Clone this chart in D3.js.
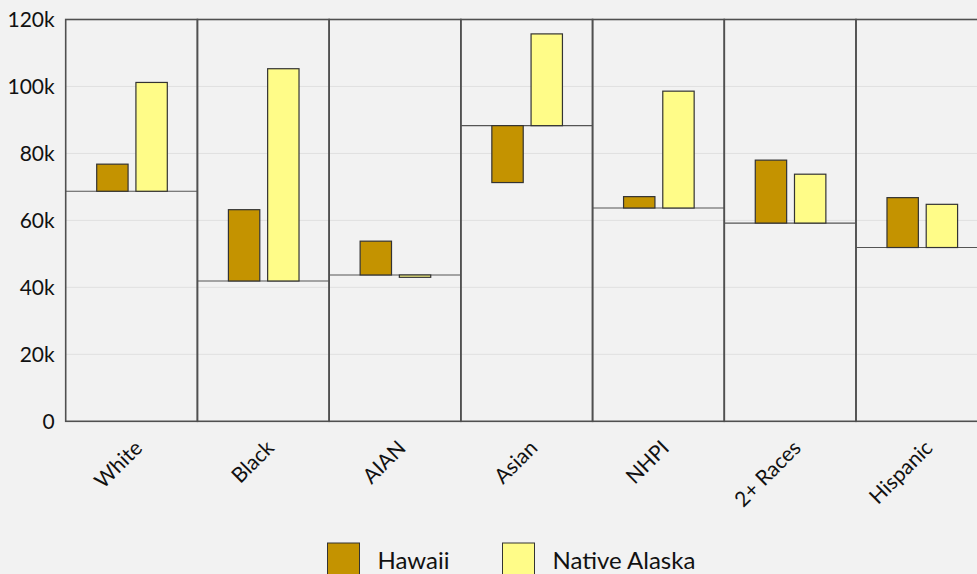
<!DOCTYPE html>
<html>
<head>
<meta charset="utf-8">
<script src="https://cdn.jsdelivr.net/npm/d3@7"></script>
<style>
  html, body { margin: 0; padding: 0; background: #f2f2f2; overflow: hidden; }
  svg { display: block; font-family: Lato, "Open Sans", sans-serif; }
</style>
</head>
<body>
<svg id="chart" width="977" height="574"></svg>
<script>
const categories = ["White", "Black", "AIAN", "Asian", "NHPI", "2+ Races", "Hispanic"];
const baseline = [68.7, 41.9, 43.7, 88.3, 63.7, 59.2, 51.9];   // thousands
const hawaii = [76.8, 63.2, 53.8, 71.3, 67.1, 78.0, 66.8];
const nativeAlaska = [101.2, 105.3, 43.0, 115.7, 98.6, 73.8, 64.8];
const seriesNames = ["Hawaii", "Native Alaska"];
const seriesColors = ["#c49300", "#fffc88"];
const yTicks = [0, 20, 40, 60, 80, 100, 120];

const svg = d3.select("#chart");
const mLeft = 65.7, mRight = 987.7, mTop = 19.5, mBottom = 421.3;

const x = d3.scaleBand().domain(categories).range([mLeft, mRight]).padding(0);
const x1 = d3.scaleBand().domain(seriesNames).range([31, 101.6]).paddingInner(0.2);
const y = d3.scaleLinear().domain([0, 120]).range([mBottom, mTop]);

// gridlines
svg.append("g").selectAll("line").data(yTicks.slice(1, -1)).join("line")
  .attr("x1", mLeft).attr("x2", mRight)
  .attr("y1", d => y(d)).attr("y2", d => y(d))
  .attr("stroke", "#e0e0e0").attr("stroke-width", 1);

// y axis labels
const yAxis = d3.axisLeft(y).tickValues(yTicks).tickSize(0).tickPadding(11)
  .tickFormat(d => d === 0 ? "0" : d + "k");
const ya = svg.append("g").attr("transform", `translate(${mLeft},0)`).call(yAxis);
ya.select(".domain").remove();
ya.selectAll("text").attr("font-size", 21).attr("fill", "#111")
  .attr("font-family", "Lato, sans-serif");

const rows = categories.map((c, i) => ({
  cat: c, base: baseline[i],
  vals: [hawaii[i], nativeAlaska[i]]
}));

const groups = svg.append("g").selectAll("g").data(rows).join("g")
  .attr("transform", d => `translate(${x(d.cat)},0)`);

// baseline lines
groups.append("line")
  .attr("x1", 0).attr("x2", x.bandwidth())
  .attr("y1", d => y(d.base)).attr("y2", d => y(d.base))
  .attr("stroke", "#555").attr("stroke-width", 1.2);

// bars
groups.selectAll("rect.bar").data(d => d.vals.map((v, j) => ({s: seriesNames[j], v, base: d.base, j})))
  .join("rect").attr("class", "bar")
  .attr("x", d => x1(d.s))
  .attr("width", x1.bandwidth())
  .attr("y", d => y(Math.max(d.v, d.base)))
  .attr("height", d => Math.abs(y(d.v) - y(d.base)))
  .attr("fill", d => seriesColors[d.j])
  .attr("stroke", "#333").attr("stroke-width", 1.2);

// band frames
groups.append("rect")
  .attr("x", 0).attr("y", mTop)
  .attr("width", x.bandwidth()).attr("height", mBottom - mTop)
  .attr("fill", "none").attr("stroke", "#505050").attr("stroke-width", 1.6);

// x axis labels
const xAxis = d3.axisBottom(x).tickSize(0).tickPadding(0);
const xa = svg.append("g").attr("transform", `translate(0,${mBottom})`).call(xAxis);
xa.select(".domain").remove();
xa.selectAll("text")
  .attr("font-size", 21).attr("fill", "#111")
  .attr("font-family", "Lato, sans-serif")
  .attr("text-anchor", "end")
  .attr("dy", 0)
  .attr("transform", "translate(12,28) rotate(-45)");

// legend
const legend = svg.append("g");
const legX = [327.5, 502.5];
seriesNames.forEach((s, j) => {
  const g = legend.append("g").attr("transform", `translate(${legX[j]},543)`);
  g.append("rect").attr("width", 32).attr("height", 36)
    .attr("fill", seriesColors[j]).attr("stroke", "#333").attr("stroke-width", 1);
  g.append("text").attr("x", 50).attr("y", 26)
    .attr("font-size", 24).attr("fill", "#111")
    .attr("font-family", "Lato, sans-serif")
    .text(s);
});
</script>
</body>
</html>
